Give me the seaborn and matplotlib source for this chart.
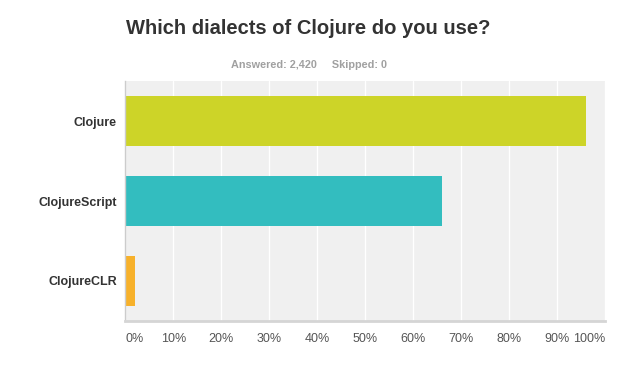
import matplotlib
matplotlib.use("Agg")
import matplotlib.pyplot as plt
import seaborn as sns
import pandas as pd

categories = ["Clojure", "ClojureScript", "ClojureCLR"]
values = [96, 66, 2]
colors = ["#CDD428", "#33BDBF", "#F7B12B"]
xticks = [0, 10, 20, 30, 40, 50, 60, 70, 80, 90, 100]
xtick_labels = [f"{t}%" for t in xticks]

sns.set_theme(style="white")
plt.rcParams["font.family"] = ["Liberation Sans", "DejaVu Sans"]

df = pd.DataFrame({"dialect": categories, "pct": values})

fig = plt.figure(figsize=(6.24, 3.73), dpi=100)
ax = fig.add_axes([125.3 / 624, 1 - 321 / 373, (605 - 125.3) / 624, 240 / 373])
ax.set_facecolor("#F0F0F0")

sns.barplot(data=df, y="dialect", x="pct", hue="dialect", palette=colors,
            order=categories, hue_order=categories, orient="h", width=0.625,
            legend=False, ax=ax, saturation=1, linewidth=0, edgecolor="none")

ax.set_xlim(0, 100)
ax.set_ylim(2.5, -0.5)
ax.set_xticks(xticks)
ax.set_xticklabels(xtick_labels, fontsize=9, color="#555555")
labels = ax.get_xticklabels()
labels[0].set_horizontalalignment("left")
labels[-1].set_horizontalalignment("right")
ax.grid(axis="x", color="white", linewidth=1)
ax.set_axisbelow(True)
ax.tick_params(axis="x", length=0, pad=9)
ax.tick_params(axis="y", length=0, pad=6)
for lab in ax.get_yticklabels():
    lab.set_fontweight("bold")
    lab.set_fontsize(9)
    lab.set_color("#333333")
ax.set_xlabel("")
ax.set_ylabel("")
for s in ["top", "right"]:
    ax.spines[s].set_visible(False)
ax.spines["left"].set_color("#CCCCCC")
ax.spines["left"].set_linewidth(1)
ax.spines["bottom"].set_color("#D5D5D5")
ax.spines["bottom"].set_linewidth(2)

fig.text(308 / 624, 1 - 28 / 373, "Which dialects of Clojure do you use?",
         ha="center", va="center", fontsize=14.5, fontweight="bold", color="#333333")
fig.text(309 / 624, 1 - 65 / 373, "Answered: 2,420     Skipped: 0",
         ha="center", va="center", fontsize=7.8, fontweight="bold", color="#A0A0A0")

fig.savefig("out.png", dpi=100)
